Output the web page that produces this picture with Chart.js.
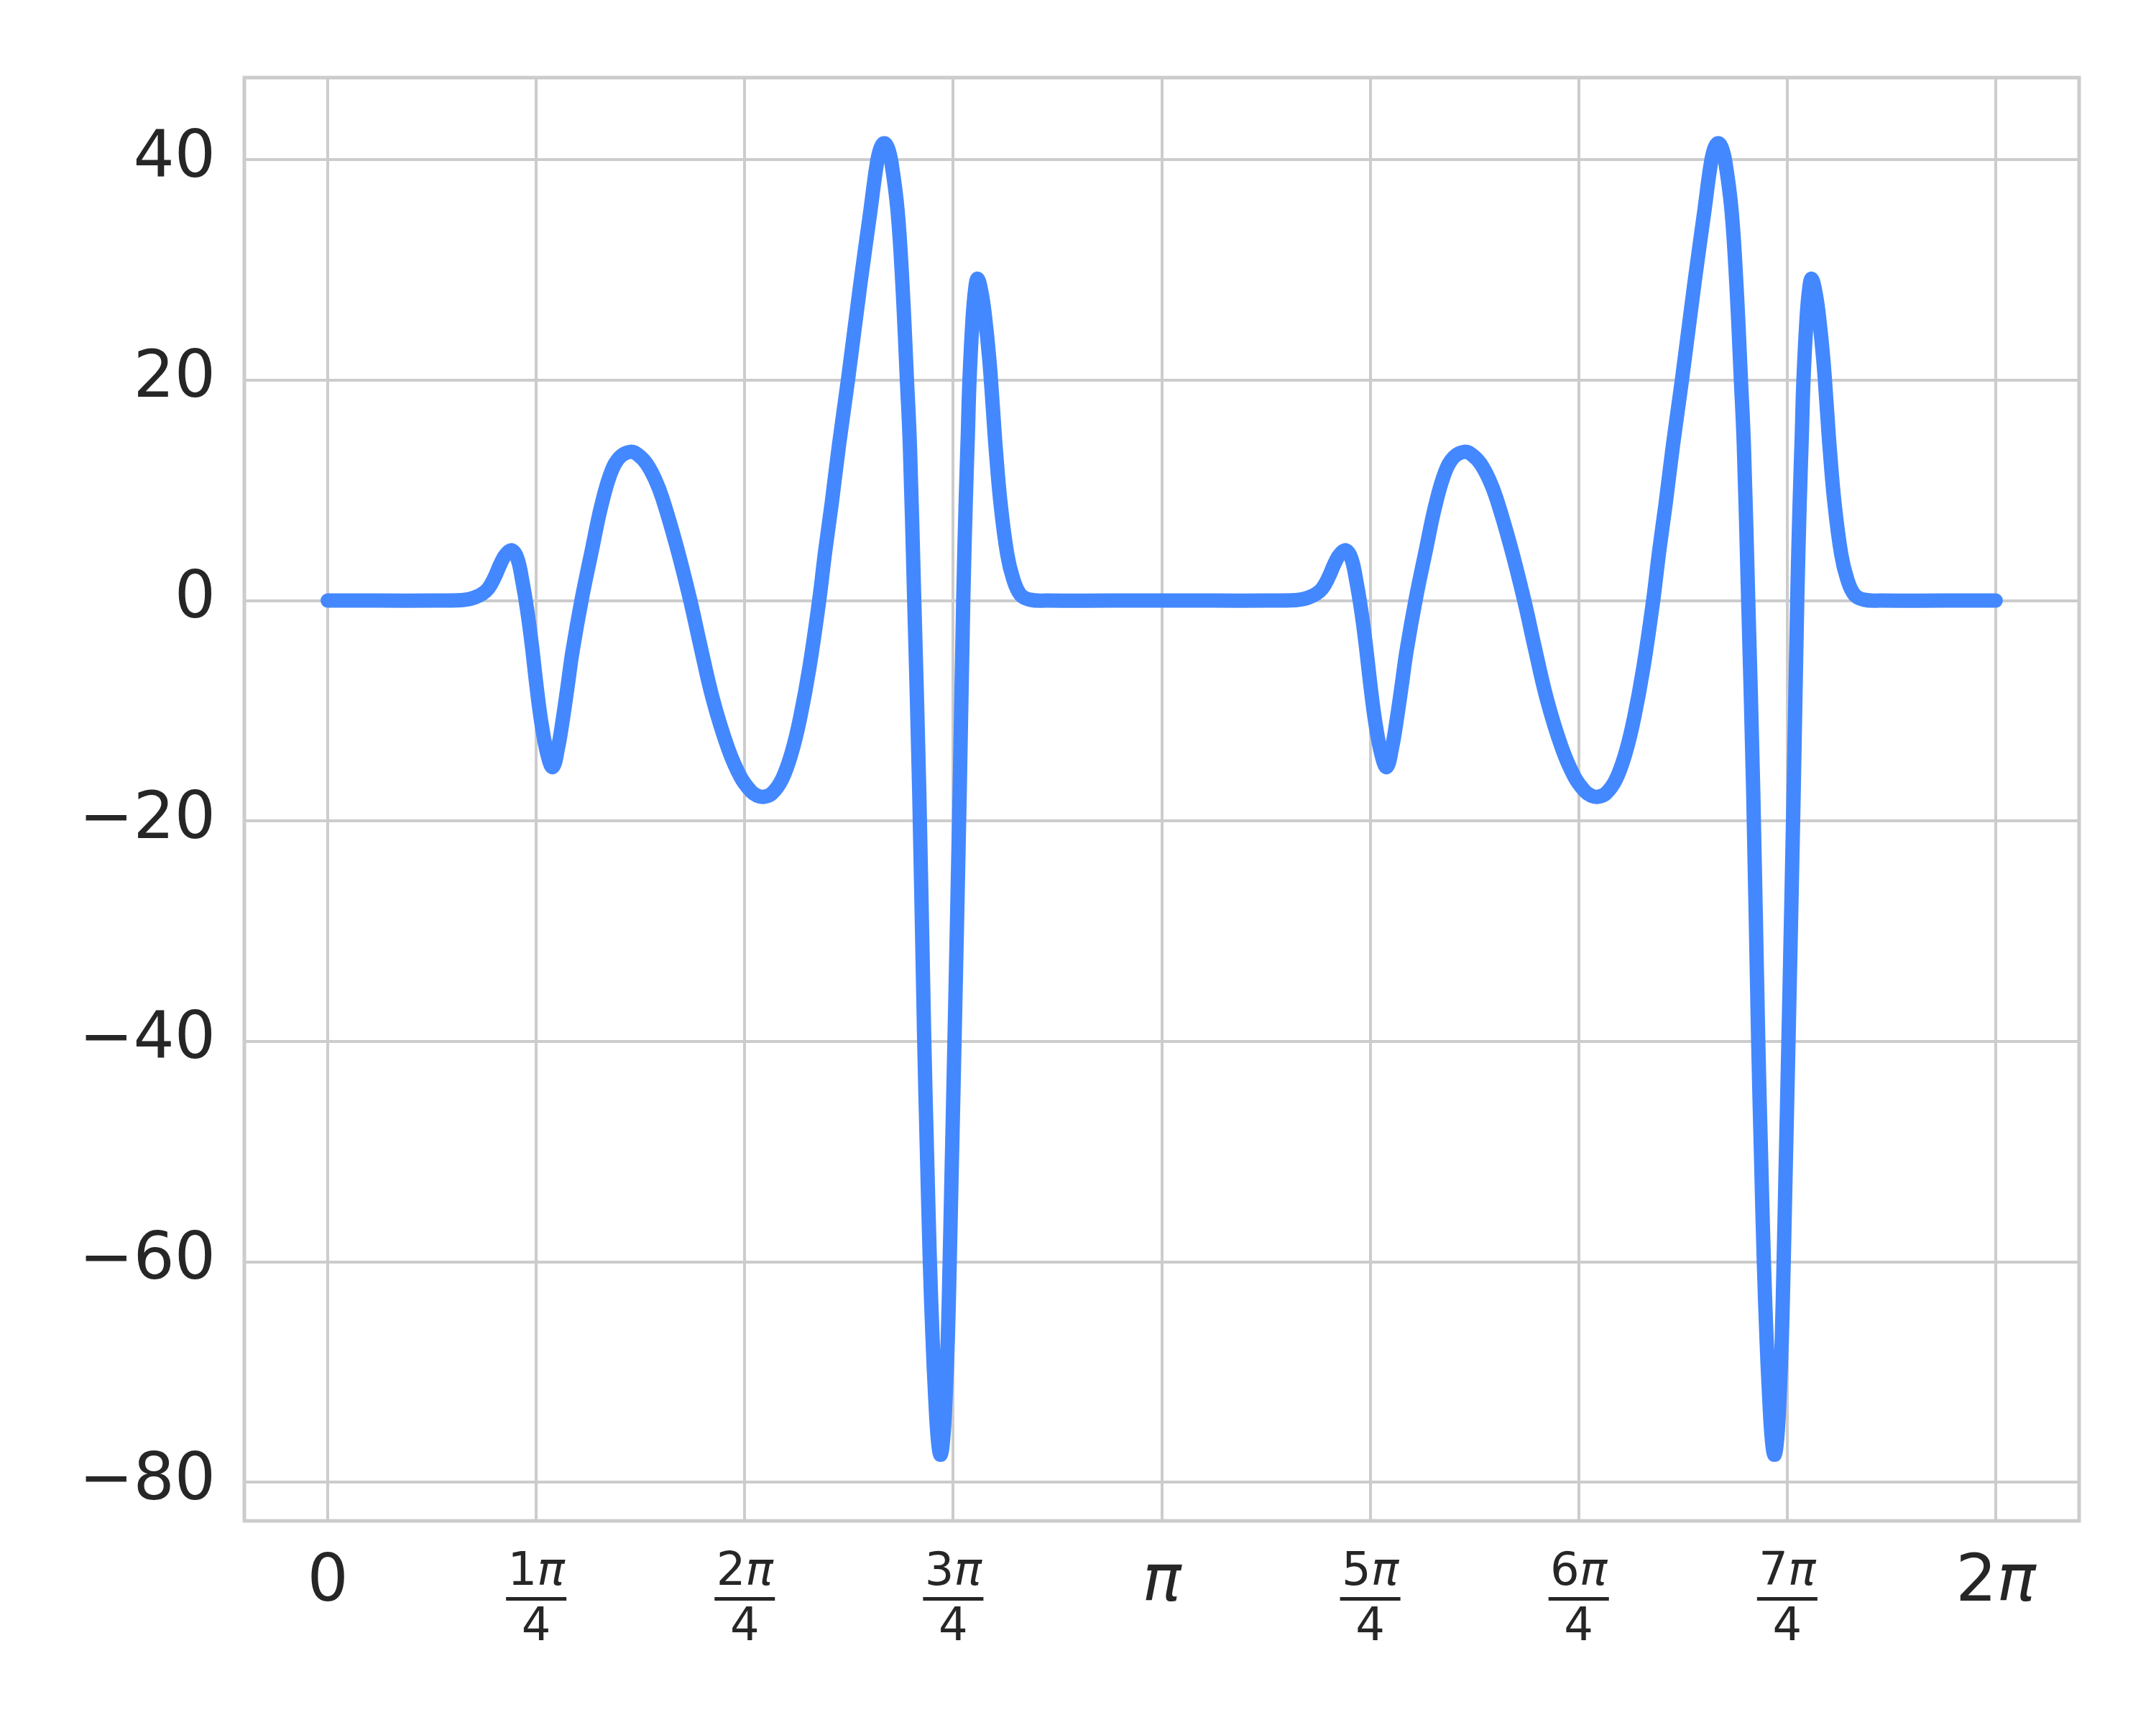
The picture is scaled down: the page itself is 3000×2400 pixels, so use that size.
<!DOCTYPE html>
<html>
<head>
<meta charset="utf-8">
<script src="https://cdn.jsdelivr.net/npm/chart.js@4.4.0/dist/chart.umd.min.js"></script>
<style>
  html, body { margin: 0; padding: 0; background: #ffffff; }
  #wrap { width: 3000px; height: 2400px; }
</style>
</head>
<body>
<div id="wrap"><canvas id="chart" width="3000" height="2400"></canvas></div>
<script>
// ===== Data (x in multiples of pi/4) =====
const xQuarterPi = [
  0.00, 0.25, 0.50, 0.62, 0.66, 0.70, 0.74, 0.77, 0.80, 0.83, 0.855, 0.884, 0.91, 0.933, 0.956, 0.978,
  1.001, 1.024, 1.053, 1.079, 1.105, 1.128, 1.151, 1.174, 1.22, 1.266, 1.312, 1.358, 1.40, 1.452, 1.49,
  1.53, 1.57, 1.605, 1.672, 1.739, 1.785, 1.848, 1.92, 1.98, 2.03, 2.06, 2.091, 2.13, 2.179, 2.225,
  2.265, 2.31, 2.357, 2.386, 2.417, 2.452, 2.495, 2.555, 2.603, 2.634, 2.652, 2.669, 2.686, 2.704,
  2.733, 2.756, 2.778, 2.792, 2.813, 2.837, 2.861, 2.874, 2.888, 2.901, 2.913, 2.926, 2.939, 2.952,
  2.964, 2.974, 2.983, 2.991, 3.006, 3.031, 3.048, 3.060, 3.07, 3.078, 3.093, 3.105, 3.117, 3.135,
  3.152, 3.173, 3.19, 3.203, 3.227, 3.259, 3.287, 3.322, 3.368, 3.45, 3.75, 4.00,
  4.25, 4.50, 4.62, 4.66, 4.70, 4.74, 4.77, 4.80, 4.83, 4.855, 4.884, 4.91, 4.933, 4.956, 4.978,
  5.001, 5.024, 5.053, 5.079, 5.105, 5.128, 5.151, 5.174, 5.22, 5.266, 5.312, 5.358, 5.40, 5.452, 5.49,
  5.53, 5.57, 5.605, 5.672, 5.739, 5.785, 5.848, 5.92, 5.98, 6.03, 6.06, 6.091, 6.13, 6.179, 6.225,
  6.265, 6.31, 6.357, 6.386, 6.417, 6.452, 6.495, 6.555, 6.603, 6.634, 6.652, 6.669, 6.686, 6.704,
  6.733, 6.756, 6.778, 6.792, 6.813, 6.837, 6.861, 6.874, 6.888, 6.901, 6.913, 6.926, 6.939, 6.952,
  6.964, 6.974, 6.983, 6.991, 7.006, 7.031, 7.048, 7.060, 7.07, 7.078, 7.093, 7.105, 7.117, 7.135,
  7.152, 7.173, 7.19, 7.203, 7.227, 7.259, 7.287, 7.322, 7.368, 7.45, 7.75, 8.00
];
const yValues = [
  0, 0, 0, 0.02, 0.08, 0.25, 0.6, 1.1, 2.1, 3.4, 4.2, 4.55, 3.8, 1.8, -0.8, -3.9,
  -7.7, -11.0, -13.9, -15.1, -13.3, -10.7, -7.7, -4.6, 0.3, 4.5, 8.6, 11.6, 13.0, 13.5, 13.2,
  12.4, 11.0, 9.3, 5.0, 0, -3.9, -9.0, -13.4, -16.0, -17.3, -17.7, -17.8, -17.5, -16.2, -13.8,
  -10.7, -6.1, 0, 4.5, 8.8, 14.1, 20, 28.8, 35.4, 39.7, 41.1, 41.5, 41.1, 39.7,
  35.4, 28.8, 20, 14.1, 0, -17.3, -40, -50, -60, -67, -72, -76, -77.5, -76,
  -72, -67, -60, -53, -40, -17.3, 0, 9, 15, 20, 25.6, 28.2, 29.2, 28.0,
  25.8, 21.9, 17.5, 14.0, 8.8, 4.2, 2.0, 0.55, 0.08, 0, 0, 0,
  0, 0, 0.02, 0.08, 0.25, 0.6, 1.1, 2.1, 3.4, 4.2, 4.55, 3.8, 1.8, -0.8, -3.9,
  -7.7, -11.0, -13.9, -15.1, -13.3, -10.7, -7.7, -4.6, 0.3, 4.5, 8.6, 11.6, 13.0, 13.5, 13.2,
  12.4, 11.0, 9.3, 5.0, 0, -3.9, -9.0, -13.4, -16.0, -17.3, -17.7, -17.8, -17.5, -16.2, -13.8,
  -10.7, -6.1, 0, 4.5, 8.8, 14.1, 20, 28.8, 35.4, 39.7, 41.1, 41.5, 41.1, 39.7,
  35.4, 28.8, 20, 14.1, 0, -17.3, -40, -50, -60, -67, -72, -76, -77.5, -76,
  -72, -67, -60, -53, -40, -17.3, 0, 9, 15, 20, 25.6, 28.2, 29.2, 28.0,
  25.8, 21.9, 17.5, 14.0, 8.8, 4.2, 2.0, 0.55, 0.08, 0, 0, 0
];

// ===== Tick labels =====
const xTickQuarters = [0, 1, 2, 3, 4, 5, 6, 7, 8];
const xTickNumerators = ['0', '1π', '2π', '3π', 'π', '5π', '6π', '7π', '2π'];
const xTickDenominators = ['', '4', '4', '4', '', '4', '4', '4', ''];
const yTickStep = 20;

// ===== Layout / style =====
const AREA = { left: 340, top: 108, right: 2893, bottom: 2116 };
const TEXT = '#262626';
const GRID = '#cccccc';
const FONT = '"DejaVu Sans"';
const BIG = 90;
const SMALL = 64;

// draw a label where π is italic, centered on cx
function drawMixed(ctx, str, cx, baseline, size) {
  const parts = Array.from(str).map(ch => ({ t: ch, it: ch === 'π' }));
  let total = 0;
  parts.forEach(p => {
    ctx.font = (p.it ? 'italic ' : '') + size + 'px ' + FONT;
    p.w = ctx.measureText(p.t).width;
    total += p.w;
  });
  let x = cx - total / 2;
  parts.forEach(p => {
    ctx.font = (p.it ? 'italic ' : '') + size + 'px ' + FONT;
    ctx.fillText(p.t, x, baseline);
    x += p.w;
  });
}

const framePlugin = {
  id: 'frameAndLabels',
  afterDraw(chart) {
    const ctx = chart.ctx;
    const a = chart.chartArea;
    const xs = chart.scales.x;

    // spines
    ctx.save();
    ctx.strokeStyle = GRID;
    ctx.lineWidth = 5;
    ctx.strokeRect(a.left, a.top, a.right - a.left, a.bottom - a.top);

    // x tick labels (fractions of pi)
    ctx.fillStyle = TEXT;
    ctx.textAlign = 'left';
    ctx.textBaseline = 'alphabetic';
    xTickQuarters.forEach((q, i) => {
      const cx = xs.getPixelForValue(q * Math.PI / 4);
      const num = xTickNumerators[i];
      const den = xTickDenominators[i];
      if (!den) {
        drawMixed(ctx, num, cx, 2227, BIG);
      } else {
        drawMixed(ctx, num, cx, 2205, SMALL);
        ctx.fillRect(cx - 42, 2222, 84, 5);
        drawMixed(ctx, den, cx, 2282, SMALL);
      }
    });
    ctx.restore();
  }
};

const ctx = document.getElementById('chart').getContext('2d');
new Chart(ctx, {
  type: 'line',
  data: {
    datasets: [{
      data: xQuarterPi.map((q, i) => ({ x: q * Math.PI / 4, y: yValues[i] })),
      borderColor: '#4488ff',
      borderWidth: 20,
      pointRadius: 0,
      fill: false,
      tension: 0.4,
      borderCapStyle: 'round',
      borderJoinStyle: 'round'
    }]
  },
  options: {
    responsive: false,
    animation: false,
    devicePixelRatio: 1,
    layout: { padding: { left: 0, top: AREA.top, right: 3000 - AREA.right, bottom: 0 } },
    plugins: { legend: { display: false }, tooltip: { enabled: false } },
    scales: {
      x: {
        type: 'linear',
        min: -0.4 * Math.PI / 4,
        max: 8.4 * Math.PI / 4,
        afterBuildTicks: s => { s.ticks = xTickQuarters.map(q => ({ value: q * Math.PI / 4 })); },
        afterFit: s => { s.height = 2400 - AREA.bottom; },
        ticks: { display: false },
        grid: { color: GRID, lineWidth: 4, drawTicks: false },
        border: { display: false }
      },
      y: {
        type: 'linear',
        min: -83.5,
        max: 47.45,
        afterFit: s => { s.width = AREA.left; },
        ticks: {
          stepSize: yTickStep,
          includeBounds: false,
          padding: 40,
          color: TEXT,
          font: { family: 'DejaVu Sans', size: BIG },
          callback: v => (v < 0 ? '\u2212' + Math.abs(v) : String(v))
        },
        grid: { color: GRID, lineWidth: 4, drawTicks: false },
        border: { display: false }
      }
    }
  },
  plugins: [framePlugin]
});
</script>
</body>
</html>
